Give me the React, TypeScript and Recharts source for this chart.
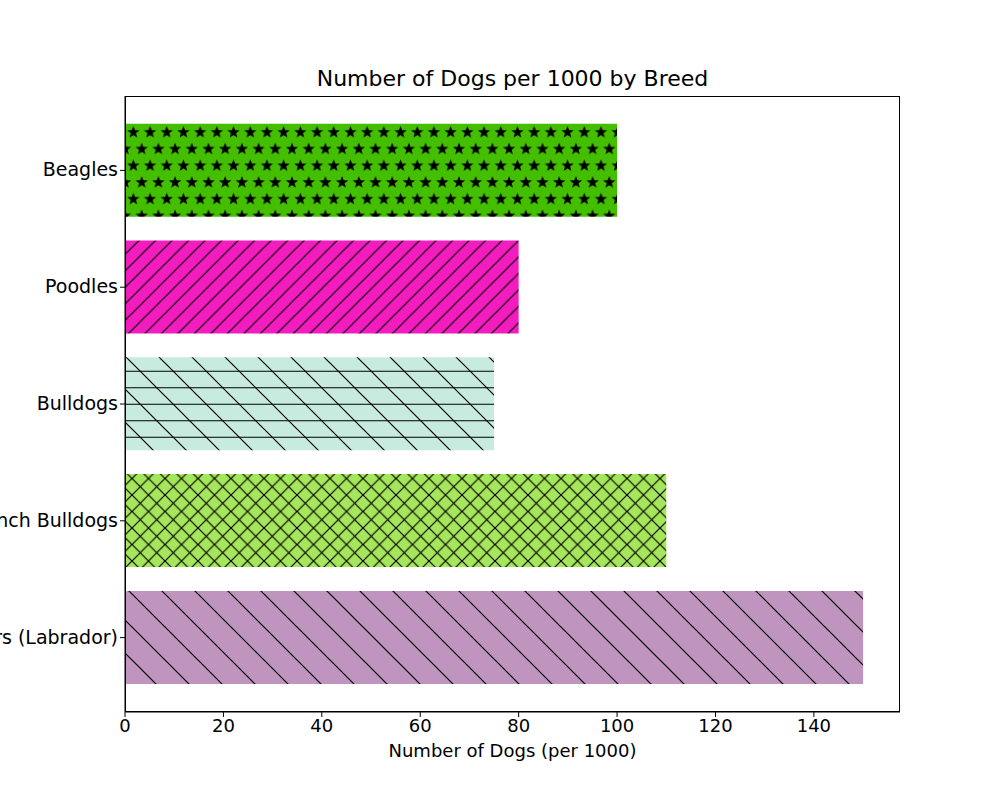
import React from "react";
import { BarChart, Bar, XAxis, YAxis, Cell } from "recharts";

const breeds = ["Beagles", "Poodles", "Bulldogs", "French Bulldogs", "Retrievers (Labrador)"];
const counts = [100, 80, 75, 110, 150];
const colors = ["#44bf00", "#f31cbf", "#c8ebe0", "#a6e65c", "#bf94bf"];
const patternIds = ["pStar", "pSlash", "pBackHoriz", "pCross", "pBackWide"];
const xTicks = [0, 20, 40, 60, 80, 100, 120, 140];

const data = breeds.map((b, i) => ({ breed: b, count: counts[i] }));

function starPath(cx: number, cy: number, R: number, r: number) {
  let d = "";
  for (let i = 0; i < 10; i++) {
    const rad = i % 2 === 0 ? R : r;
    const a = -Math.PI / 2 + (i * Math.PI) / 5;
    d += (i === 0 ? "M" : "L") + (cx + rad * Math.cos(a)).toFixed(2) + "," + (cy + rad * Math.sin(a)).toFixed(2);
  }
  return d + "Z";
}

const YTick = (props: any) => {
  const { x, y, payload } = props;
  return (
    <text x={x} y={y} dy={6} textAnchor="end" fill="#000" fontSize={19} fontFamily="DejaVu Sans">
      {payload.value}
    </text>
  );
};

export default function App() {
  const s = 16.7;
  return (
    <div style={{ position: "absolute", left: 0, top: 0, width: 1000, height: 800, background: "#fff" }}>
      <div style={{ position: "absolute", top: 66, left: 125, width: 775, textAlign: "center", fontFamily: "DejaVu Sans", fontSize: 22 }}>
        Number of Dogs per 1000 by Breed
      </div>
      <BarChart width={1000} height={800} data={data} layout="vertical" barCategoryGap="10%"
        margin={{ top: 96, right: 100, left: 0, bottom: 0 }}>
        <defs>
          <pattern id="pStar" patternUnits="userSpaceOnUse" width={s} height={s * 2} x={125} y={124}>
            <rect width={s} height={s * 2} fill={colors[0]} />
            <path d={starPath(s / 2, s / 2, 6.5, 2.7)} fill="#000" />
            <path d={starPath(0, s * 1.5, 6.5, 2.7)} fill="#000" />
            <path d={starPath(s, s * 1.5, 6.5, 2.7)} fill="#000" />
          </pattern>
          <pattern id="pSlash" patternUnits="userSpaceOnUse" width={16.5} height={16.5}>
            <rect width={16.5} height={16.5} fill={colors[1]} />
            <path d="M-2,18.5 L18.5,-2 M-2,2 L2,-2 M14.5,18.5 L18.5,14.5" stroke="#000" strokeWidth={1.2} />
          </pattern>
          <pattern id="pBackHoriz" patternUnits="userSpaceOnUse" width={33} height={33}>
            <rect width={33} height={33} fill={colors[2]} />
            <path d="M-2,-2 L35,35 M-2,31 L2,35 M31,-2 L35,2" stroke="#000" strokeWidth={1.2} />
            <path d="M0,8.25 L33,8.25 M0,24.75 L33,24.75" stroke="#000" strokeWidth={1.2} />
          </pattern>
          <pattern id="pCross" patternUnits="userSpaceOnUse" width={16.5} height={16.5}>
            <rect width={16.5} height={16.5} fill={colors[3]} />
            <path d="M-2,18.5 L18.5,-2 M-2,-2 L18.5,18.5 M-2,2 L2,-2 M14.5,18.5 L18.5,14.5 M-2,14.5 L2,18.5 M14.5,-2 L18.5,2" stroke="#000" strokeWidth={1.2} />
          </pattern>
          <pattern id="pBackWide" patternUnits="userSpaceOnUse" width={33} height={33}>
            <rect width={33} height={33} fill={colors[4]} />
            <path d="M-2,-2 L35,35 M-2,31 L2,35 M31,-2 L35,2" stroke="#000" strokeWidth={1.2} />
          </pattern>
        </defs>
        <XAxis type="number" dataKey="count" domain={[0, 157.5]} ticks={xTicks} height={88}
          tickSize={5} stroke="#000" tick={{ fill: "#000", fontSize: 18, fontFamily: "DejaVu Sans" }}
          tickLine={{ stroke: "#000" }} allowDataOverflow
          label={{ value: "Number of Dogs (per 1000)", position: "insideTop", offset: 32, fill: "#000", fontSize: 18, fontFamily: "DejaVu Sans" }} />
        <YAxis type="category" dataKey="breed" width={125} padding={{ top: 16, bottom: 16 }}
          tickSize={5} stroke="#000" tick={<YTick />} interval={0} />
        <Bar dataKey="count" isAnimationActive={false}>
          {data.map((d, i) => (
            <Cell key={d.breed} fill={`url(#${patternIds[i]})`} />
          ))}
        </Bar>
      </BarChart>
      <div style={{ position: "absolute", left: 125, top: 96, width: 775, height: 616, boxSizing: "border-box", border: "1px solid #000", pointerEvents: "none" }} />
    </div>
  );
}
